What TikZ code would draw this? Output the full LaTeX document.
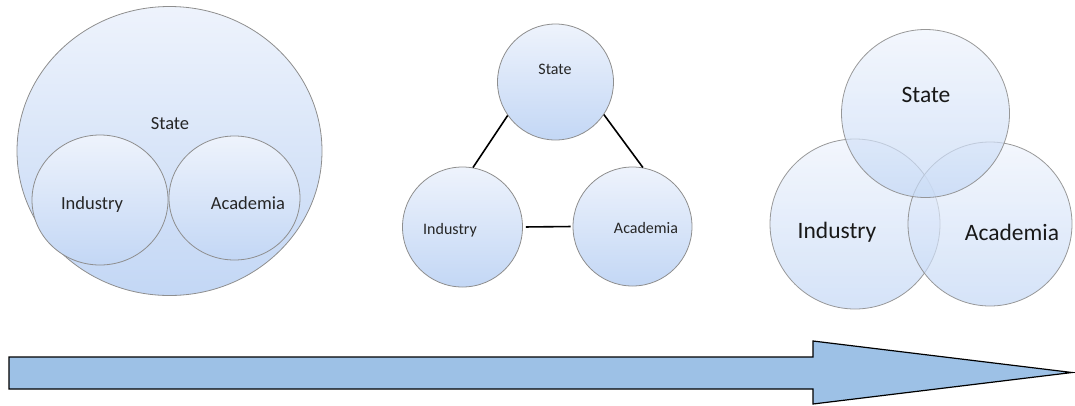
\documentclass[tikz,border=0pt]{standalone}
\usepackage{fontspec}
\setmainfont{Carlito}
\usetikzlibrary{shapes.geometric}
\definecolor{topc}{HTML}{EEF3FC}
\definecolor{botc}{HTML}{C3D7F5}
\definecolor{edgec}{HTML}{8E8E8E}
\definecolor{arrowc}{HTML}{9DC1E6}
\tikzset{
  bubble/.style={ellipse, draw=edgec, line width=0.8pt, inner sep=0pt, top color=topc, bottom color=botc},
  ring/.style={circle, draw=edgec, line width=0.8pt, inner sep=0pt, top color=topc, bottom color=botc},
  glass/.style={ring, fill opacity=0.7, draw opacity=0.9},
  txtA/.style={font=\fontsize{18.5}{20}\selectfont, text=black!85},
  txtB/.style={font=\fontsize{16}{18}\selectfont, text=black!85},
  txtC/.style={font=\fontsize{23.5}{26}\selectfont, text=black!90},
  link/.style={draw=black, line width=1.6pt},
  bigarrow/.style={draw=black, line width=1.2pt, fill=arrowc, line join=miter}
}
\begin{document}
\begin{tikzpicture}[x=1pt,y=-1pt]
\useasboundingbox (0,0) rectangle (1075,405);
% left: nested
\node[bubble, minimum width=305pt, minimum height=289pt] (Sl) at (169.5,151) {};
\node[bubble, minimum width=136pt, minimum height=130pt] (Il) at (100,200) {};
\node[bubble, minimum width=131pt, minimum height=124pt] (Al) at (234.5,198) {};
\node[txtA] (tSl) at (170,124) {State};
\node[txtA] (tIl) at (92,205) {Industry};
\node[txtA] (tAl) at (248,203) {Academia};
% middle: triangle
\node[ring, minimum size=116pt] (Sm) at (555.5,82) {};
\node[ring, minimum size=120pt] (Im) at (462.5,227) {};
\node[ring, minimum size=119pt] (Am) at (632.5,226.5) {};
\node[txtB] (tSm) at (555,69) {State};
\node[txtB] (tIm) at (450,230) {Industry};
\node[txtB] (tAm) at (646,228) {Academia};
\draw[link] (Sm.215) -- (Im.80);
\draw[link] (Sm.326) -- (Am.80);
\draw[link, shorten <=3pt, shorten >=2pt] (Im.east) -- (Am.west);
% right: venn
\node[glass, minimum size=170pt] (Ir) at (855,224) {};
\node[glass, minimum size=164pt] (Ar) at (990,224) {};
\node[glass, minimum size=168pt] (Sr) at (925.5,113.5) {};
\node[txtC] (tSr) at (926,95) {State};
\node[txtC] (tIr) at (837,232) {Industry};
\node[txtC] (tAr) at (1012,232) {Academia};
% arrow
\draw[bigarrow] (9,357) -- (813,357) -- (813,341) -- (1072,372.5) -- (813,404) -- (813,389) -- (9,389) -- cycle;
\end{tikzpicture}
\end{document}
